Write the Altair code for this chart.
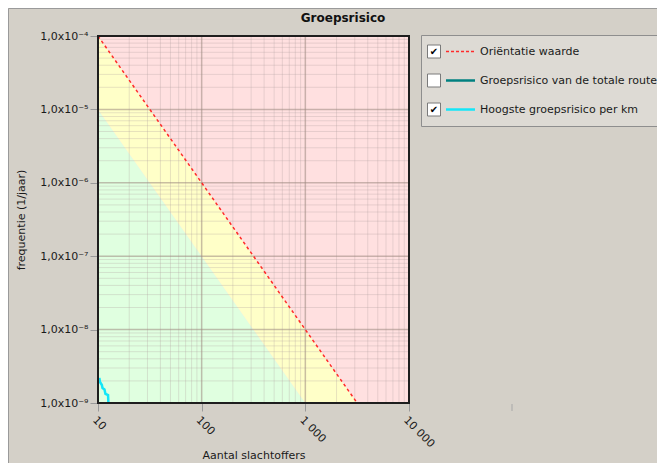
import json
import altair as alt
import pandas as pd

# ---------------- data ----------------
orient_N = [10, 10000]
orient_F = [1e-4, 1e-10]          # oriëntatiewaarde (rode stippellijn)
lower_F = [1e-5, 1e-11]           # grens geel / groen
floor_F = [1e-12, 1e-12]

curve_N = [10.3, 10.45, 10.9, 11.05, 11.55, 11.8, 12.5, 12.6]
curve_F = [2.2e-9, 1.93e-9, 1.76e-9, 1.6e-9, 1.53e-9, 1.33e-9, 1.28e-9, 1.0e-9]

x_ticks = [10, 100, 1000, 10000]
x_tick_labels = ["10", "100", "1 000", "10 000"]
y_ticks = [1e-9, 1e-8, 1e-7, 1e-6, 1e-5, 1e-4]
y_tick_labels = ["1,0x10⁻⁹", "1,0x10⁻⁸", "1,0x10⁻⁷", "1,0x10⁻⁶", "1,0x10⁻⁵", "1,0x10⁻⁴"]

x_major = [100, 1000]
y_major = [1e-8, 1e-7, 1e-6, 1e-5]
x_minor = [m * 10 ** e for e in (1, 2, 3) for m in range(2, 10)]
y_minor = [m * 10.0 ** e for e in range(-9, -4) for m in range(2, 10)]

legend_labels = ["Oriëntatie waarde", "Groepsrisico van de totale route", "Hoogste groepsrisico per km"]
legend_checked = [True, False, True]

# ---------------- layout / style ----------------
W, H = 311, 367
TOTAL_W, TOTAL_H = 649, 455
PAD_L, PAD_T = 90, 28
FONT = "DejaVu Sans"
BG = "#D4D0C8"
PINK, YELLOW, GREEN = "#FFE0E0", "#FFFFC8", "#E0FFE0"
RED, TEAL, CYAN = "#FF2A2A", "#008080", "#14E6F8"
TXT = "#1a1a1a"

xscale = alt.Scale(type="log", domain=[10, 10000], nice=False)
yscale = alt.Scale(type="log", domain=[1e-9, 1e-4], nice=False)

xaxis = alt.Axis(
    values=x_ticks,
    labelExpr=f"{json.dumps(x_tick_labels)}[indexof({json.dumps(x_ticks)}, datum.value)]",
    labelAngle=45, labelAlign="left", labelBaseline="top", labelPadding=3,
    labelFontSize=11, labelColor=TXT, labelFont=FONT,
    tickSize=8, tickColor="#9a9a9a", domain=False, grid=False,
    title="Aantal slachtoffers", titleFont=FONT, titleFontSize=11,
    titleFontWeight="normal", titleColor=TXT,
    titleY=52, titleBaseline="middle",
)
yaxis = alt.Axis(
    values=y_ticks,
    labelExpr=f"{json.dumps(y_tick_labels, ensure_ascii=False)}[indexof({json.dumps(y_ticks)}, datum.value)]",
    labelFontSize=11, labelColor=TXT, labelFont=FONT, labelPadding=2,
    tickSize=8, tickColor="#9a9a9a", domain=False, grid=False,
    title="frequentie (1/jaar)", titleFont=FONT, titleFontSize=11,
    titleFontWeight="normal", titleColor=TXT,
    titleX=-77, titleY=H / 2, titleAngle=270, titleAlign="center", titleBaseline="middle",
)


def X(field="N"):
    return alt.X(f"{field}:Q", scale=xscale, axis=xaxis)


def Y(field="F"):
    return alt.Y(f"{field}:Q", scale=yscale, axis=yaxis)


band_df = pd.DataFrame({"N": orient_N, "F": lower_F, "F2": orient_F, "Fl": floor_F})
orient_df = pd.DataFrame({"N": orient_N, "F": orient_F})
curve_df = pd.DataFrame({"N": curve_N, "F": curve_F})
one = pd.DataFrame({"a": [0]})

pink = alt.Chart(one).mark_rect(fill=PINK).encode(
    x=alt.value(0), x2=alt.value(W), y=alt.value(0), y2=alt.value(H))
green = alt.Chart(band_df).mark_area(clip=True, color=GREEN).encode(
    x=X(), y=Y("Fl"), y2=alt.Y2("F:Q"))
yellow = alt.Chart(band_df).mark_area(clip=True, color=YELLOW).encode(
    x=X(), y=Y("F"), y2=alt.Y2("F2:Q"))

grid_minor_x = alt.Chart(pd.DataFrame({"N": x_minor})).mark_rule(
    color="#B0A0A0", opacity=0.3, strokeWidth=1).encode(x=X())
grid_minor_y = alt.Chart(pd.DataFrame({"F": y_minor})).mark_rule(
    color="#B0A0A0", opacity=0.3, strokeWidth=1).encode(y=Y())
grid_major_x = alt.Chart(pd.DataFrame({"N": x_major})).mark_rule(
    color="#9C8880", opacity=0.55, strokeWidth=1.5).encode(x=X())
grid_major_y = alt.Chart(pd.DataFrame({"F": y_major})).mark_rule(
    color="#9C8880", opacity=0.55, strokeWidth=1.5).encode(y=Y())

orient_line = alt.Chart(orient_df).mark_line(
    clip=True, color=RED, strokeDash=[3, 3], strokeWidth=1.5).encode(x=X(), y=Y())
curve_line = alt.Chart(curve_df).mark_line(
    clip=True, color=CYAN, strokeWidth=2.5).encode(x=X(), y=Y())

frame = alt.Chart(one).mark_rect(fillOpacity=0, stroke="#1e1e1e", strokeWidth=2).encode(
    x=alt.value(0), x2=alt.value(W), y=alt.value(0), y2=alt.value(H))

title = alt.Chart(one).mark_text(
    text="Groepsrisico", font=FONT, fontSize=12, fontWeight="bold", color="#111111",
    align="center", baseline="middle").encode(x=alt.value(245), y=alt.value(-18))

outer = alt.Chart(one).mark_rect(fillOpacity=0, stroke="#9a9a9a", strokeWidth=1).encode(
    x=alt.value(-PAD_L + 0.5), x2=alt.value(TOTAL_W - PAD_L + 10),
    y=alt.value(-PAD_T + 0.5), y2=alt.value(TOTAL_H - PAD_T + 10))

stray_tick = alt.Chart(one).mark_rule(color="#a8a8a8", strokeWidth=1).encode(
    x=alt.value(414), y=alt.value(368), y2=alt.value(375))

# legend panel
leg_layers = [
    alt.Chart(one).mark_rect(fill="#DDDAD4", stroke="#8e8e8e", strokeWidth=1).encode(
        x=alt.value(323.5), x2=alt.value(TOTAL_W - PAD_L + 10),
        y=alt.value(-0.5), y2=alt.value(90.5))
]
row_y = [15.5, 44.5, 73.5]
samples = [
    dict(color=RED, strokeDash=[3, 2], strokeWidth=1.5),
    dict(color=TEAL, strokeWidth=2.5),
    dict(color=CYAN, strokeWidth=2.5),
]
for label, checked, ry, style in zip(legend_labels, legend_checked, row_y, samples):
    leg_layers.append(alt.Chart(one).mark_rect(fill="#FFFFFF", stroke="#7a7a7a", strokeWidth=1).encode(
        x=alt.value(329.5), x2=alt.value(342.5), y=alt.value(ry - 6.5), y2=alt.value(ry + 6.5)))
    if checked:
        leg_layers.append(alt.Chart(one).mark_text(
            text="✔", font="DejaVu Sans", fontSize=10, color="#000000",
            align="center", baseline="middle").encode(x=alt.value(336), y=alt.value(ry + 0.5)))
    leg_layers.append(alt.Chart(one).mark_rule(**style).encode(
        x=alt.value(348), x2=alt.value(377), y=alt.value(ry)))
    leg_layers.append(alt.Chart(one).mark_text(
        text=label, font=FONT, fontSize=11, color=TXT,
        align="left", baseline="middle").encode(x=alt.value(382), y=alt.value(ry)))

chart = alt.layer(
    pink, green, yellow, grid_minor_x, grid_minor_y, grid_major_x, grid_major_y,
    orient_line, curve_line, frame, title, outer, stray_tick, *leg_layers
).properties(
    width=W, height=H, background=BG,
    autosize=alt.AutoSizeParams(type="none"),
    padding={"left": PAD_L, "top": PAD_T, "right": TOTAL_W - PAD_L - W, "bottom": TOTAL_H - PAD_T - H},
).configure_view(stroke="transparent").configure(font=FONT)

chart.save("out.html", embed_options={"renderer": "svg", "actions": False})
